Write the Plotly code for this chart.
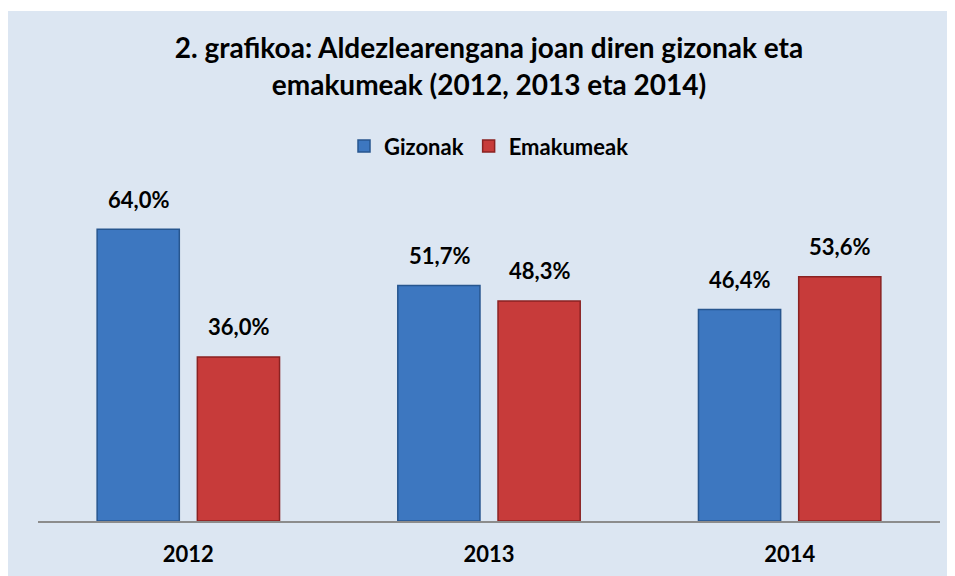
import plotly.graph_objects as go

years = ["2012", "2013", "2014"]
gizonak = [64.0, 51.7, 46.4]
emakumeak = [36.0, 48.3, 53.6]

title_text = "2. grafikoa: Aldezlearengana joan diren gizonak eta<br>emakumeak (2012, 2013 eta 2014)"
FONT = "Lato, 'Open Sans', sans-serif"

fig = go.Figure()
fig.add_trace(go.Bar(x=years, y=gizonak, name="Gizonak",
                     marker=dict(color="#3d77c0", line=dict(color="#27568f", width=1.5))))
fig.add_trace(go.Bar(x=years, y=emakumeak, name="Emakumeak",
                     marker=dict(color="#c73b3a", line=dict(color="#8a2222", width=1.5))))

def fmt(v):
    return f"{v:.1f}%".replace(".", ",")

# value labels above each bar
for i, (g, e) in enumerate(zip(gizonak, emakumeak)):
    fig.add_annotation(x=i, y=g, text=fmt(g), xshift=-50, yshift=30, showarrow=False,
                       yanchor="middle", font=dict(size=22, color="black", family=FONT, weight="bold"))
    fig.add_annotation(x=i, y=e, text=fmt(e), xshift=50, yshift=30, showarrow=False,
                       yanchor="middle", font=dict(size=22, color="black", family=FONT, weight="bold"))

# light blue chart area (white strip on left and top)
fig.add_shape(type="rect", xref="paper", yref="paper", x0=-0.0333, x1=1.05, y0=-0.25, y1=1.599,
              fillcolor="#dce6f2", line=dict(width=0), layer="below")

fig.update_layout(
    width=955, height=576,
    margin=dict(l=30, r=23, t=194, b=63),
    paper_bgcolor="white", plot_bgcolor="rgba(0,0,0,0)",
    barmode="group", bargap=1/3, bargroupgap=0.18,
    font=dict(family=FONT, color="black"),
    title=dict(text=title_text, x=0.5, xref="paper", xanchor="center",
               y=0.913, yref="container", yanchor="top",
               font=dict(size=28, family=FONT, color="black", weight="bold")),
    legend=dict(orientation="h", x=0.5, xanchor="center", y=1.175, yanchor="middle",
                font=dict(size=22, family=FONT, weight="bold"), bgcolor="rgba(0,0,0,0)",
                itemwidth=30),
    showlegend=True,
)
fig.update_xaxes(type="category", range=[-0.5, 2.5], showline=True, linecolor="#8c8c8c",
                 linewidth=2, ticks="", ticklabelstandoff=13,
                 tickfont=dict(size=22, family=FONT, weight="bold"))
fig.update_yaxes(range=[0, 70], visible=False, showgrid=False)

fig.write_html("out.html")
